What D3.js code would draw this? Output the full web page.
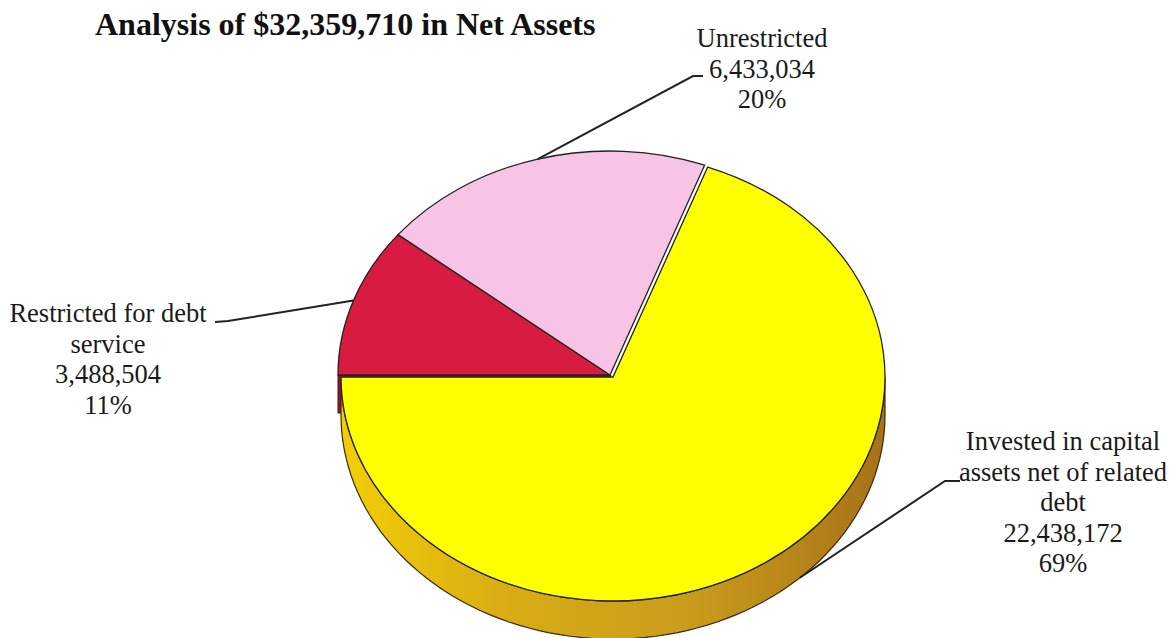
<!DOCTYPE html>
<html>
<head>
<meta charset="utf-8">
<script src="https://cdn.jsdelivr.net/npm/d3@7"></script>
<style>
  body { margin: 0; background: #fff; }
  svg { display: block; }
</style>
</head>
<body>
<div id="canvas"></div>
<script>
"use strict"

/* Data */
let categories = ["Restricted for debt service", "Unrestricted", "Invested in capital assets net of related debt"];
let values = [3488504, 6433034, 22438172];
let labelLines = [["Restricted for debt", "service"], ["Unrestricted"], ["Invested in capital", "assets net of related", "debt"]];
let sliceColors = ["#d81b40", "#f7c4e6", "#ffff00"];
let titleText = "Analysis of $32,359,710 in Net Assets";

/* Drawing configuration */
let svgWidth = 1174;
let svgHeight = 638;
let cx = 610, cy = 375;      // centre of the top face
let rx = 272, ry = 224;      // tilted ellipse radii
let depth = 38;              // thickness of the pie
let explode = [[0, 0], [0, 0], [3, 2]];   // small offsets of the slices
let lineH = 30.5;

// label placement: text centre, first baseline, leader elbow
let labelLayout = [
    { x: 108, y: 322, elbow: [[215, 322], [228, 321]], nudge: 0, down: 0 },
    { x: 762, y: 47,  elbow: [[703, 76], [693, 76]],   nudge: 0, down: 0 },
    { x: 1063, y: 450, elbow: [[960, 481], [945, 481]], nudge: -0.15, down: 1 }
];

let svg = d3.select("#canvas")
    .append("svg")
    .attr("width", svgWidth)
    .attr("height", svgHeight);

svg.append("rect")
    .attr("width", svgWidth)
    .attr("height", svgHeight)
    .attr("fill", "#ffffff");

/* Gradient for the gold side wall */
let defs = svg.append("defs");
let grad = defs.append("linearGradient")
    .attr("id", "sideGrad")
    .attr("gradientUnits", "userSpaceOnUse")
    .attr("x1", cx - rx).attr("y1", 0)
    .attr("x2", cx + rx).attr("y2", 0);
grad.append("stop").attr("offset", "0%").attr("stop-color", "#f3cf05");
grad.append("stop").attr("offset", "30%").attr("stop-color", "#d9ad14");
grad.append("stop").attr("offset", "65%").attr("stop-color", "#c99c1c");
grad.append("stop").attr("offset", "100%").attr("stop-color", "#a87218");

/* Pie layout: start at 9 o'clock, keep data order */
let pie = d3.pie()
    .sort(null)
    .startAngle(-Math.PI / 2)
    .endAngle(Math.PI * 1.5);
let arcs = pie(values);
let total = d3.sum(values);

let arcGen = d3.arc().innerRadius(0).outerRadius(rx);

// point on the ellipse edge for an angle (d3 convention)
function edgePoint(a, i, dy) {
    return [cx + explode[i][0] + rx * Math.sin(a), cy + explode[i][1] - ry * Math.cos(a) + (dy || 0)];
}

// side wall of a slice, only the front half is visible
function sidePath(d, i) {
    let s = Math.max(d.startAngle, Math.PI / 2);
    let e = Math.min(d.endAngle, Math.PI * 1.5);
    if (s >= e) return null;
    let n = 80;
    let top = d3.range(n + 1).map(function (k) { return edgePoint(s + (e - s) * k / n, i, 0); });
    let bottom = top.slice().reverse().map(function (p) { return [p[0], p[1] + depth]; });
    return d3.line()(top.concat(bottom)) + "Z";
}

/* Cut face of the red slice at 9 o'clock, seen through the gap */
let red = arcs[0];
let cutA = edgePoint(red.startAngle, 0, 0);
svg.append("path")
    .attr("d", d3.line()([[cx, cy], cutA, [cutA[0], cutA[1] + depth], [cx, cy + depth]]) + "Z")
    .attr("fill", "#a3102e")
    .attr("stroke", "#2a1a20")
    .attr("stroke-width", 1);

/* Side walls */
svg.selectAll("path.side")
    .data(arcs)
    .join("path")
    .attr("class", "side")
    .attr("d", function (d, i) { return sidePath(d, i); })
    .attr("fill", "url(#sideGrad)")
    .attr("stroke", "#3a2a10")
    .attr("stroke-width", 1.2);

/* Top faces */
svg.selectAll("path.top")
    .data(arcs)
    .join("path")
    .attr("class", "top")
    .attr("d", arcGen)
    .attr("transform", function (d, i) {
        return "translate(" + (cx + explode[i][0]) + "," + (cy + explode[i][1]) + ") scale(1," + (ry / rx) + ")";
    })
    .attr("fill", function (d, i) { return sliceColors[i]; })
    .attr("stroke", "#222")
    .attr("stroke-width", 1.3)
    .attr("vector-effect", "non-scaling-stroke");

/* Title */
svg.append("text")
    .attr("x", 95)
    .attr("y", 35)
    .style("font-family", "'Liberation Serif', 'Times New Roman', serif")
    .style("font-weight", "bold")
    .style("font-size", "32px")
    .attr("fill", "#111")
    .text(titleText);

/* Labels and leader lines */
arcs.forEach(function (d, i) {
    let lay = labelLayout[i];
    let mid = (d.startAngle + d.endAngle) / 2 + lay.nudge;
    let target = edgePoint(mid, i, lay.down * depth);

    svg.append("path")
        .attr("d", d3.line()([lay.elbow[0], lay.elbow[1], target]))
        .attr("fill", "none")
        .attr("stroke", "#222")
        .attr("stroke-width", 2);

    let lines = labelLines[i].concat([
        d3.format(",")(values[i]),
        Math.round(values[i] / total * 100) + "%"
    ]);
    let t = svg.append("text")
        .attr("text-anchor", "middle")
        .style("font-family", "'Liberation Serif', 'Times New Roman', serif")
        .style("font-size", "26.5px")
        .attr("fill", "#1a1a1a");
    lines.forEach(function (s, k) {
        t.append("tspan")
            .attr("x", lay.x)
            .attr("y", lay.y + k * lineH)
            .text(s);
    });
});
</script>
</body>
</html>
